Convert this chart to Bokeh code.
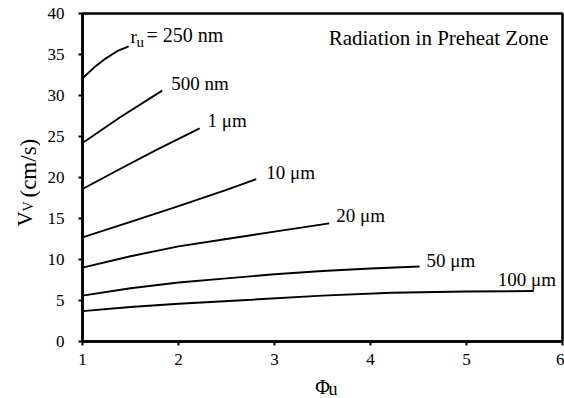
from math import pi
from bokeh.plotting import figure
from bokeh.layouts import row, column
from bokeh.models import Range1d, FixedTicker, Label
from bokeh.core.properties import value
from bokeh.embed import file_html
from bokeh.resources import INLINE

# ---- data ----
phi_250nm = [1.0, 1.12, 1.24, 1.36, 1.48]
v_250nm = [32.1, 33.4, 34.5, 35.4, 36.0]
phi_500nm = [1.0, 1.4, 1.83]
v_500nm = [24.2, 27.4, 30.6]
phi_1um = [1.0, 1.4, 1.76, 2.22]
v_1um = [18.6, 21.1, 23.3, 26.0]
phi_10um = [1.0, 1.5, 2.0, 2.5, 2.81]
v_10um = [12.7, 14.6, 16.5, 18.5, 19.8]
phi_20um = [1.0, 1.5, 2.0, 2.5, 3.0, 3.57]
v_20um = [9.0, 10.4, 11.6, 12.5, 13.4, 14.4]
phi_50um = [1.0, 1.5, 2.0, 2.5, 3.0, 3.5, 4.0, 4.51]
v_50um = [5.6, 6.5, 7.2, 7.7, 8.2, 8.6, 8.9, 9.15]
phi_100um = [1.0, 1.5, 2.0, 2.76, 3.5, 4.22, 5.0, 5.7]
v_100um = [3.7, 4.2, 4.6, 5.1, 5.6, 5.95, 6.1, 6.15]

series_labels = ["250 nm", "500 nm", "1 \u03bcm", "10 \u03bcm", "20 \u03bcm", "50 \u03bcm", "100 \u03bcm"]
x_ticks = [1, 2, 3, 4, 5, 6]
y_ticks = [0, 5, 10, 15, 20, 25, 30, 35, 40]
title_text = "Radiation in Preheat Zone"
x_title, x_title_sub = "\u03a6", "u"
y_title, y_title_sub, y_title_unit = "V", "V", "(cm/s)"

SERIF = "Liberation Serif"
x_range = Range1d(x_ticks[0], x_ticks[-1])
y_range = Range1d(y_ticks[0], y_ticks[-1])
x_mid = (x_ticks[0] + x_ticks[-1]) / 2
y_mid = (y_ticks[0] + y_ticks[-1]) / 2

# ---------------- main chart ----------------
p = figure(width=524, height=372, x_range=x_range, y_range=y_range,
           output_backend="svg", toolbar_location=None,
           min_border_left=42, min_border_right=2, min_border_top=13, min_border_bottom=31)
p.background_fill_color = "white"
p.border_fill_color = "white"
p.outline_line_color = "black"
p.outline_line_width = 2.5
p.grid.visible = False

p.axis.axis_line_width = 2.5
p.axis.axis_line_color = "black"
p.axis.major_tick_in = 0
p.axis.major_tick_out = 4
p.axis.major_tick_line_width = 2
p.axis.major_tick_line_color = "black"
p.axis.minor_tick_line_color = None
p.axis.major_label_text_font = SERIF
p.axis.major_label_text_font_size = "17px"
p.axis.major_label_text_color = "black"
p.xaxis.ticker = FixedTicker(ticks=x_ticks)
p.yaxis.ticker = FixedTicker(ticks=y_ticks)
p.xaxis.major_label_standoff = 8
p.yaxis.major_label_standoff = 14

series = [(phi_250nm, v_250nm), (phi_500nm, v_500nm), (phi_1um, v_1um),
          (phi_10um, v_10um), (phi_20um, v_20um), (phi_50um, v_50um),
          (phi_100um, v_100um)]
for xs, ys in series:
    p.line(xs, ys, line_color="black", line_width=1.9)

# labels at line ends (pixel offsets)
offsets = [None, (9, -7), (8, -8), (10, -7), (7, -8), (7, -6), (-36, -12)]
for (xs, ys), lab, off in zip(series, series_labels, offsets):
    if off is None:
        continue
    p.text(x=[xs[-1]], y=[ys[-1]], text=[lab], x_offset=off[0], y_offset=off[1],
           text_font=value(SERIF), text_font_size="19px", text_color="black",
           text_align="left", text_baseline="middle")

# r_u = 250 nm label (composite with subscript)
xe, ye = phi_250nm[-1], v_250nm[-1]
p.text(x=[xe], y=[ye], text=["r"], x_offset=2, y_offset=-10,
       text_font=value(SERIF), text_font_size="19px", text_color="black",
       text_align="left", text_baseline="middle")
p.text(x=[xe], y=[ye], text=["u"], x_offset=8, y_offset=-4,
       text_font=value(SERIF), text_font_size="15px", text_color="black",
       text_align="left", text_baseline="middle")
p.text(x=[xe], y=[ye], text=["= " + series_labels[0]], x_offset=18, y_offset=-11,
       text_font=value(SERIF), text_font_size="20px", text_color="black",
       text_align="left", text_baseline="middle")

# title inside the plot
p.add_layout(Label(x=466, y=304, x_units="screen", y_units="screen", text=title_text,
                   text_font=SERIF, text_font_size="21px", text_color="black",
                   text_align="right", text_baseline="alphabetic"))

# ---------------- y-axis title strip (shares the y scale) ----------------
left = figure(width=40, height=398, x_range=Range1d(0, 40), y_range=y_range,
              output_backend="svg", toolbar_location=None,
              x_axis_type=None, y_axis_type=None,
              min_border_left=0, min_border_right=0, min_border_top=13, min_border_bottom=57)
left.outline_line_color = None
left.grid.visible = False
left.text(x=[24], y=[y_mid], text=[y_title], angle=pi / 2, y_offset=49,
          text_font=value(SERIF), text_font_size="21px", text_color="black",
          text_align="left", text_baseline="alphabetic")
left.text(x=[28], y=[y_mid], text=[y_title_sub], angle=pi / 2, y_offset=34,
          text_font=value(SERIF), text_font_size="14px", text_color="black",
          text_align="left", text_baseline="alphabetic")
left.text(x=[27.5], y=[y_mid], text=[y_title_unit], angle=pi / 2, y_offset=20,
          text_font=value(SERIF), text_font_size="23px", text_color="black",
          text_align="left", text_baseline="alphabetic")

# ---------------- x-axis title strip (shares the x scale) ----------------
bottom = figure(width=524, height=26, x_range=x_range, y_range=Range1d(0, 26),
                output_backend="svg", toolbar_location=None,
                x_axis_type=None, y_axis_type=None,
                min_border_left=42, min_border_right=2, min_border_top=0, min_border_bottom=0)
bottom.outline_line_color = None
bottom.grid.visible = False
bottom.text(x=[x_mid], y=[12], text=[x_title],
            text_font=value(SERIF), text_font_size="20px", text_color="black",
            text_align="center", text_baseline="alphabetic")
bottom.text(x=[x_mid], y=[10], text=[x_title_sub], x_offset=6,
            text_font=value(SERIF), text_font_size="18px", text_color="black",
            text_align="left", text_baseline="alphabetic")

layout = row(left, column(p, bottom))
open("out.html", "w").write(file_html(layout, INLINE))
